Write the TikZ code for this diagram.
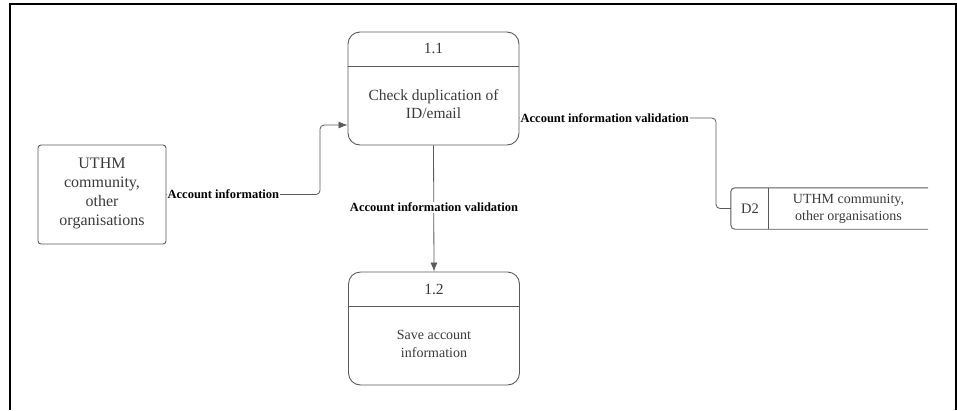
\documentclass[tikz,border=0pt]{standalone}
\usepackage{fontspec}
\setmainfont{Liberation Serif}
\usetikzlibrary{arrows.meta,calc}
\definecolor{ln}{HTML}{5A5A5A}
\definecolor{tx}{HTML}{3A3A3A}
\tikzset{
  proc/.style={draw=ln, line width=0.9pt, rounded corners=12pt, minimum width=171pt, minimum height=113pt, inner sep=0pt},
  ent/.style={draw=ln, line width=0.9pt, rounded corners=3pt, minimum width=128pt, minimum height=99pt, inner sep=0pt},
  txt/.style={text=tx, font=\fontsize{13.5}{18.5}\selectfont, align=center, inner sep=0pt},
  big/.style={font=\fontsize{15.5}{18.5}\selectfont},
  lab/.style={font=\fontsize{12.5}{14}\selectfont\bfseries, text=black, fill=white, inner sep=1pt},
  flow/.style={draw=ln, line width=0.8pt, rounded corners=4pt},
  tip/.style={-{Latex[length=9pt,width=7pt]}}
}
\begin{document}
\begin{tikzpicture}[x=1pt,y=1pt]
\useasboundingbox (0,0) rectangle (957,-410);
% frame
\draw[line width=2pt, black] (10,-410) -- (10,-4) -- (956,-4) -- (956,-410);

% process 1.1
\node[proc] (p11) at (433.5,-88.5) {};
\draw[ln, line width=0.9pt] ($(p11.north west)+(0,-35)$) -- ($(p11.north east)+(0,-35)$);
\node[txt, big] (n11) at (433.5,-48) {1.1};
\node[txt, big] (t11) at (433.5,-104) {Check duplication of\\ID/email};

% process 1.2
\node[proc] (p12) at (434,-328.5) {};
\draw[ln, line width=0.9pt] ($(p12.north west)+(0,-35)$) -- ($(p12.north east)+(0,-35)$);
\node[txt, big] (n12) at (434,-289) {1.2};
\node[txt, font=\fontsize{14}{18.5}\selectfont] (t12) at (434,-344) {Save account\\information};

% external entity
\node[ent] (ent) at (102,-194.5) {};
\node[txt, font=\fontsize{16}{19}\selectfont] (tent) at (102,-193.5) {UTHM\\community,\\other\\organisations};

% data store D2
\node[minimum width=197pt, minimum height=41pt, inner sep=0pt] (d2) at (829.5,-208.5) {};
\draw[ln, line width=0.9pt, rounded corners=4pt] (d2.north east) -- (d2.north west) -- (d2.south west) -- (d2.south east);
\draw[ln, line width=0.9pt] ($(d2.north west)+(38,0)$) -- ($(d2.south west)+(38,0)$);
\node[txt, font=\fontsize{14.5}{17}\selectfont] (d2id) at (750,-208.5) {D2};
\node[txt, font=\fontsize{14}{17}\selectfont] (d2t) at (848.5,-208.5) {UTHM community,\\other organisations};

% connectors
\coordinate (a1) at ($(p11.west)+(0,-36.5)$);
\draw[flow, tip] (ent.east) -- (320,-194.5) |- (a1);
\node[lab, anchor=west] (l1) at (ent.east) {Account information};

\coordinate (b1) at ($(p11.east)+(0,-29.5)$);
\draw[flow] (b1) -- (716,-118) |- (d2.west);
\node[lab, anchor=west] (l2) at (b1) {Account information validation};

\draw[flow, tip] (p11.south) -- (p12.north);
\node[lab] (l3) at (434,-207.5) {Account information validation};
\end{tikzpicture}
\end{document}
